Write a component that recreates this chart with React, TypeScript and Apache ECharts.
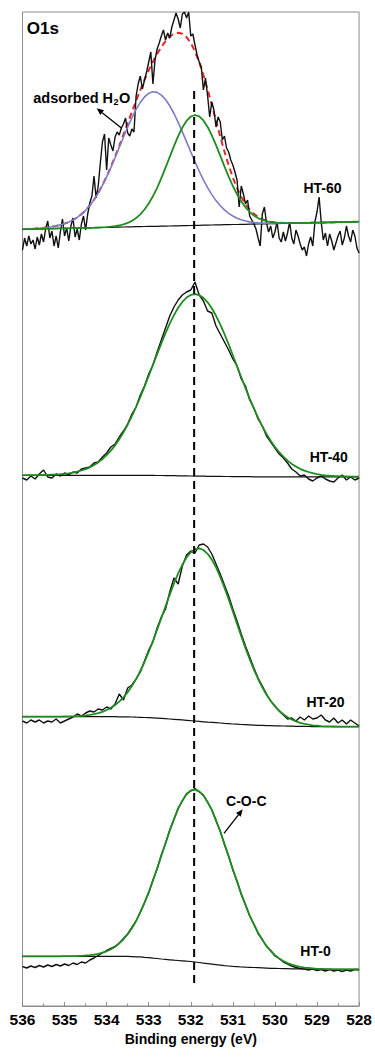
import React, { useEffect, useRef } from "react";
import * as echarts from "echarts";

// Binding-energy sampling grid (eV): spectra/fits are sampled from 536 eV downward
const E_START = 536;
const STEP = 0.1; // fits and HT-40/20/0 spectra
const FINE_STEP = 0.05; // HT-60 spectrum

const X_MIN = 528;
const X_MAX = 536;
const Y_MAX = 994; // stacked intensity (a.u.)
const PEAK_LINE_E = 531.92;
const PEAK_LINE_RANGE = [23, 918];

// ---------------- HT-60 (stacked intensity, a.u.) ----------------
const HT60_RAW = [
  756, 768, 760, 770, 762, 766, 757, 769, 761, 772,
  764, 777, 785, 768, 775, 760, 770, 758, 774, 787,
  770, 778, 765, 780, 788, 769, 777, 766, 782, 790,
  776, 792, 803, 810, 830, 808, 820, 843, 864, 872,
  836, 868, 861, 855, 869, 874, 871, 878, 882, 888,
  873, 870, 877, 874, 910, 922, 930, 917, 926, 934,
  944, 954, 922, 946, 957, 963, 970, 976, 966, 973,
  968, 979, 986, 993, 987, 978, 992, 994, 988, 994,
  970, 972, 961, 951, 944, 939, 916, 928, 910, 889,
  904, 896, 879, 889, 884, 866, 870, 858, 854, 846,
  841, 834, 826, 799, 820, 812, 802, 806, 790, 786,
  782, 777, 768, 760, 792, 799, 783, 774, 780, 768,
  774, 784, 768, 764, 774, 765, 773, 784, 768, 762,
  776, 770, 762, 756, 759, 750, 762, 769, 760, 784,
  794, 809, 784, 766, 773, 760, 772, 765, 756, 763,
  770, 775, 761, 768, 780, 770, 764, 776, 770, 758,
  753,
];
const HT60_BG = [
  776.7, 776.8, 776.9, 777.0, 777.1, 777.2, 777.3, 777.4, 777.5, 777.6,
  777.7, 777.7, 777.8, 777.9, 778.0, 778.1, 778.2, 778.3, 778.4, 778.5,
  778.6, 778.7, 778.8, 778.9, 779.0, 779.1, 779.2, 779.3, 779.4, 779.5,
  779.6, 779.6, 779.7, 779.8, 779.9, 780.0, 780.1, 780.2, 780.3, 780.4,
  780.5, 780.6, 780.7, 780.8, 780.9, 781.0, 781.1, 781.2, 781.3, 781.4,
  781.5, 781.5, 781.6, 781.7, 781.8, 781.9, 782.0, 782.1, 782.2, 782.3,
  782.4, 782.5, 782.6, 782.7, 782.8, 782.9, 783.0, 783.1, 783.2, 783.3,
  783.4, 783.4, 783.5, 783.6, 783.7, 783.8, 783.9, 784.0, 784.1, 784.2,
  784.3,
];
const HT60_H2O = [
  0.2, 0.3, 0.4, 0.5, 0.7, 1.0, 1.4, 1.9, 2.6, 3.5,
  4.7, 6.2, 8.2, 10.7, 13.8, 17.6, 22.3, 28.0, 34.5, 42.1,
  50.5, 59.7, 69.5, 79.7, 89.8, 99.7, 109.0, 117.3, 124.2, 129.6,
  133.1, 134.6, 133.9, 131.1, 126.6, 120.2, 112.4, 103.4, 93.8, 83.7,
  73.5, 63.6, 54.1, 45.4, 37.4, 30.4, 24.3, 19.1, 14.8, 11.3,
  8.5, 6.3, 4.6, 3.3, 2.3, 1.6, 1.1, 0.8, 0.5, 0.3,
  0.2, 0.1, 0.1, 0, 0, 0, 0, 0, 0, 0,
  0, 0, 0, 0, 0, 0, 0, 0, 0, 0, 0,
];
const HT60_COC = [
  0, 0, 0, 0, 0, 0, 0, 0, 0, 0,
  0, 0, 0, 0, 0, 0, 0, 0, 0.1, 0.2,
  0.36, 0.6, 1.0, 1.6, 2.6, 3.95, 5.9, 8.6, 12.3, 17.0,
  22.9, 30.1, 38.5, 48.0, 58.4, 69.1, 79.8, 89.7, 98.2, 104.8,
  109.0, 110.4, 109.0, 104.8, 98.2, 89.7, 79.8, 69.1, 58.4, 48.0,
  38.5, 30.1, 22.9, 17.0, 12.3, 8.6, 5.9, 3.95, 2.6, 1.6,
  1.0, 0.6, 0.36, 0.2, 0.1, 0, 0, 0, 0, 0,
  0, 0, 0, 0, 0, 0, 0, 0, 0, 0, 0,
];

// ---------------- HT-40 ----------------
const HT40_RAW = [
  528, 526, 530, 527, 532, 536, 529, 528, 532, 530,
  533, 531, 534, 533, 537, 538, 539, 543, 544, 549,
  553, 559, 562, 569, 575, 582, 592, 599, 611, 620,
  632, 641, 654, 666, 678, 690, 699, 706, 711, 714,
  716, 724, 711, 705, 695, 693, 680, 672, 664, 656,
  647, 640, 627, 620, 606, 598, 587, 580, 570, 564,
  558, 552, 548, 543, 537, 534, 530, 531, 527, 525,
  528, 530, 527, 525, 524, 528, 531, 526, 529, 526, 528,
];
const HT40_BG = [
  530.7, 530.7, 530.7, 530.7, 530.7, 530.7, 530.7, 530.7, 530.7, 530.7,
  530.7, 530.7, 530.7, 530.7, 530.7, 530.7, 530.7, 530.7, 530.7, 530.7,
  530.7, 530.7, 530.7, 530.7, 530.7, 530.7, 530.7, 530.7, 530.7, 530.7,
  530.6, 530.6, 530.5, 530.5, 530.4, 530.3, 530.3, 530.2, 530.1, 530.1,
  530.0, 529.9, 529.9, 529.8, 529.7, 529.7, 529.6, 529.6, 529.5, 529.5,
  529.4, 529.4, 529.4, 529.3, 529.3, 529.2, 529.2, 529.2, 529.2, 529.2,
  529.2, 529.2, 529.2, 529.2, 529.2, 529.2, 529.2, 529.2, 529.2, 529.2,
  529.2, 529.2, 529.2, 529.2, 529.2, 529.2, 529.2, 529.2, 529.2, 529.2, 529.2,
];
const HT40_COC = [
  0.0, 0.1, 0.1, 0.1, 0.2, 0.3, 0.4, 0.6, 0.8, 1.1,
  1.5, 2.0, 2.7, 3.6, 4.8, 6.2, 8.0, 10.2, 12.9, 16.2,
  20.1, 24.6, 29.9, 36.0, 42.9, 50.6, 59.1, 68.3, 78.2, 88.6,
  99.4, 110.4, 121.4, 132.2, 142.5, 152.0, 160.6, 168.0, 174.0, 178.4,
  181.1, 182.0, 181.1, 178.4, 174.0, 168.0, 160.6, 152.0, 142.5, 132.2,
  121.4, 110.4, 99.4, 88.6, 78.2, 68.3, 59.1, 50.6, 42.9, 36.0,
  29.9, 24.6, 20.1, 16.2, 12.9, 10.2, 8.0, 6.2, 4.8, 3.6,
  2.7, 2.0, 1.5, 1.1, 0.8, 0.6, 0.4, 0.3, 0.2, 0.1, 0.1,
];

// ---------------- HT-20 ----------------
const HT20_RAW = [
  285, 283, 286, 284, 286, 283, 285, 284, 287, 283,
  285, 287, 289, 292, 290, 293, 295, 294, 297, 296,
  299, 297, 302, 312, 306, 318, 321, 327, 334, 345,
  356, 364, 378, 389, 397, 414, 428, 422, 440, 451,
  455, 453, 461, 462, 459, 452, 442, 432, 421, 410,
  397, 385, 372, 360, 349, 338, 328, 320, 312, 305,
  300, 295, 291, 287, 288, 285, 289, 286, 290, 287,
  288, 291, 286, 284, 288, 283, 286, 282, 286, 283, 280,
];
const HT20_BG = [
  289.3, 289.3, 289.3, 289.3, 289.3, 289.3, 289.3, 289.3, 289.3, 289.3,
  289.3, 289.3, 289.3, 289.3, 289.3, 289.3, 289.3, 289.3, 289.3, 289.3,
  289.3, 289.3, 289.3, 289.2, 289.2, 289.1, 289.0, 288.8, 288.7, 288.5,
  288.4, 288.2, 287.9, 287.6, 287.3, 287.0, 286.7, 286.4, 286.1, 285.7,
  285.3, 285.0, 284.6, 284.2, 283.8, 283.6, 283.3, 283.0, 282.6, 282.3,
  282.0, 281.8, 281.5, 281.3, 281.1, 280.9, 280.7, 280.6, 280.4, 280.3,
  280.2, 280.1, 280.0, 279.9, 279.8, 279.7, 279.6, 279.6, 279.5, 279.4,
  279.4, 279.3, 279.3, 279.3, 279.3, 279.3, 279.3, 279.3, 279.3, 279.3, 279.3,
];
const HT20_COC = [
  0, 0, 0, 0, 0, 0, 0, 0, 0.1, 0.1,
  0.2, 0.3, 0.4, 0.6, 0.9, 1.3, 1.8, 2.6, 3.6, 4.9,
  6.7, 8.9, 11.7, 15.2, 19.5, 24.7, 30.9, 38.1, 46.3, 55.5,
  65.7, 76.6, 88.3, 100.3, 112.5, 124.4, 135.8, 146.2, 155.3, 162.8,
  168.4, 171.8, 173.0, 171.8, 168.4, 162.8, 155.3, 146.2, 135.8, 124.4,
  112.5, 100.3, 88.3, 76.6, 65.7, 55.5, 46.3, 38.1, 30.9, 24.7,
  19.5, 15.2, 11.7, 8.9, 6.7, 4.9, 3.6, 2.6, 1.8, 1.3,
  0.9, 0.6, 0.4, 0.3, 0.2, 0.1, 0.1, 0, 0, 0, 0,
];

// ---------------- HT-0 ----------------
const HT0_RAW = [
  39.5, 38.0, 40.0, 38.5, 40.5, 39.0, 41.0, 39.5, 41.5, 40.0,
  42.0, 40.5, 43.0, 41.5, 44.0, 43.0, 46.0, 48.0, 50.5, 53.0,
  55.5, 57.5, 59.5, 63.0, 67.5, 72.0, 78.5, 85.0, 94.0, 103.5,
  113.0, 126.0, 137.0, 151.0, 162.5, 176.0, 186.5, 198.0, 205.0, 212.5,
  215.0, 217.5, 214.0, 211.0, 203.5, 196.5, 185.0, 175.0, 161.5, 150.0,
  136.0, 125.0, 111.5, 101.5, 90.0, 82.0, 72.5, 66.5, 59.5, 55.5,
  50.0, 47.5, 44.0, 42.0, 40.0, 38.5, 37.5, 37.0, 36.0, 37.0,
  35.5, 36.5, 35.0, 36.5, 35.0, 36.0, 34.5, 36.0, 35.0, 36.5, 36.0,
];
const HT0_BG = [
  49.7, 49.7, 49.7, 49.7, 49.7, 49.7, 49.7, 49.7, 49.7, 49.7,
  49.7, 49.7, 49.7, 49.7, 49.7, 49.7, 49.7, 49.7, 49.7, 49.7,
  49.7, 49.7, 49.7, 49.7, 49.7, 49.6, 49.4, 49.2, 49.1, 48.7,
  48.4, 47.9, 47.5, 47.0, 46.6, 46.2, 45.8, 45.5, 45.2, 44.8,
  44.5, 44.0, 43.5, 42.9, 42.4, 41.9, 41.4, 40.9, 40.3, 40.0,
  39.6, 39.3, 39.0, 38.8, 38.7, 38.5, 38.3, 38.1, 37.9, 37.7,
  37.6, 37.5, 37.4, 37.3, 37.2, 37.2, 37.1, 37.0, 37.0, 36.9,
  36.8, 36.8, 36.7, 36.7, 36.7, 36.7, 36.7, 36.7, 36.7, 36.7, 36.7,
];
const HT0_COC = [
  0, 0, 0, 0, 0, 0, 0, 0, 0, 0,
  0.1, 0.1, 0.2, 0.3, 0.5, 0.8, 1.2, 1.7, 2.5, 3.6,
  5.0, 7.0, 9.6, 12.9, 17.0, 22.2, 28.4, 35.9, 44.5, 54.4,
  65.4, 77.4, 90.1, 103.2, 116.4, 129.2, 141.1, 151.7, 160.4, 167.0,
  171.0, 172.4, 171.2, 167.6, 161.7, 153.9, 144.4, 133.6, 121.8, 109.5,
  97.1, 84.9, 73.1, 62.1, 52.0, 43.0, 35.0, 28.1, 22.2, 17.3,
  13.3, 10.1, 7.6, 5.6, 4.1, 2.9, 2.1, 1.4, 1.0, 0.7,
  0.4, 0.3, 0.2, 0.1, 0, 0, 0, 0, 0, 0, 0,
];

const COLORS = {
  raw: "#111111",
  fit: "#1f8c1f",
  h2o: "#7b7bc9",
  envelope: "#e3262a",
  frame: "#8c8c8c",
};
const FONT = '"Liberation Sans", Arial, sans-serif';

function toPairs(vals: number[], step: number) {
  return vals.map((v, i) => [Number((E_START - i * step).toFixed(2)), v]);
}
function addArrays(...arrs: number[][]) {
  return arrs[0].map((_, i) => arrs.reduce((s, a) => s + a[i], 0));
}

function lineSeries(name: string, data: number[][], color: string, width: number, extra: any = {}) {
  return {
    name,
    type: "line",
    data,
    symbol: "none",
    showSymbol: false,
    silent: true,
    animation: false,
    lineStyle: { color, width, ...(extra.lineStyle || {}) },
    z: extra.z ?? 2,
  };
}

function arrow(x1: number, y1: number, tipX: number, tipY: number) {
  const dx = tipX - x1;
  const dy = tipY - y1;
  const len = Math.sqrt(dx * dx + dy * dy);
  const ux = dx / len;
  const uy = dy / len;
  const hl = 7;
  const hw = 3;
  const bx = tipX - hl * ux;
  const by = tipY - hl * uy;
  return [
    { type: "line", shape: { x1, y1, x2: bx, y2: by }, style: { stroke: "#000", lineWidth: 1.3 } },
    {
      type: "polygon",
      shape: {
        points: [
          [tipX, tipY],
          [bx - hw * uy, by + hw * ux],
          [bx + hw * uy, by - hw * ux],
        ],
      },
      style: { fill: "#000" },
    },
  ];
}

function label(text: string, x: number, y: number, size: number, align = "center") {
  return {
    type: "text",
    x,
    y,
    style: {
      text,
      font: `bold ${size}px ${FONT}`,
      fill: "#000",
      align,
      verticalAlign: "middle",
      textAlign: align,
      textVerticalAlign: "middle",
    },
    z: 10,
  };
}

function measure(text: string, size: number) {
  const c = document.createElement("canvas").getContext("2d");
  if (!c) return text.length * size * 0.55;
  c.font = `bold ${size}px ${FONT}`;
  return c.measureText(text).width;
}

export default function App() {
  const ref = useRef<HTMLDivElement>(null);

  useEffect(() => {
    document.body.style.margin = "0";
    if (!ref.current) return;
    const chart = echarts.init(ref.current, undefined, { renderer: "svg" });

    const ht60Env = addArrays(HT60_BG, HT60_H2O, HT60_COC);
    const series: any[] = [
      lineSeries("HT-60 envelope", toPairs(ht60Env, STEP), COLORS.envelope, 2, { lineStyle: { type: [6, 4] }, z: 2 }),
      lineSeries("HT-60", toPairs(HT60_RAW, FINE_STEP), COLORS.raw, 1.4, { z: 3 }),
      lineSeries("HT-60 background", toPairs(HT60_BG, STEP), COLORS.raw, 1.2, { z: 4 }),
      lineSeries("adsorbed H2O", toPairs(addArrays(HT60_BG, HT60_H2O), STEP), COLORS.h2o, 1.6, { z: 5 }),
      lineSeries("HT-60 C-O-C", toPairs(addArrays(HT60_BG, HT60_COC), STEP), COLORS.fit, 1.8, { z: 6 }),

      lineSeries("HT-40", toPairs(HT40_RAW, STEP), COLORS.raw, 1.4, { z: 3 }),
      lineSeries("HT-40 background", toPairs(HT40_BG, STEP), COLORS.raw, 1.2, { z: 4 }),
      lineSeries("HT-40 C-O-C", toPairs(addArrays(HT40_BG, HT40_COC), STEP), COLORS.fit, 1.8, { z: 6 }),

      lineSeries("HT-20", toPairs(HT20_RAW, STEP), COLORS.raw, 1.4, { z: 3 }),
      lineSeries("HT-20 background", toPairs(HT20_BG, STEP), COLORS.raw, 1.2, { z: 4 }),
      lineSeries("HT-20 C-O-C", toPairs(addArrays(HT20_BG, HT20_COC), STEP), COLORS.fit, 1.8, { z: 6 }),

      lineSeries("HT-0", toPairs(HT0_RAW, STEP), COLORS.raw, 1.4, { z: 3 }),
      lineSeries("HT-0 background", toPairs(HT0_BG, STEP), COLORS.raw, 1.2, { z: 4 }),
      lineSeries("HT-0 C-O-C", toPairs(addArrays(HT0_BG, HT0_COC), STEP), COLORS.fit, 1.8, { z: 6 }),

      lineSeries(
        "peak position",
        [
          [PEAK_LINE_E, PEAK_LINE_RANGE[0]],
          [PEAK_LINE_E, PEAK_LINE_RANGE[1]],
        ],
        "#000",
        2,
        { lineStyle: { type: [8, 5] }, z: 8 }
      ),
    ];

    // "adsorbed H2O" with subscript, laid out from measured widths
    const h2oSize = 14.5;
    const subSize = 9;
    const h2oX = 33.3;
    const h2oY = 98.3;
    const wMain = measure("adsorbed H", h2oSize);
    const wSub = measure("2", subSize);

    const graphics: any[] = [
      label("O1s", 26.7, 28, 17, "left"),
      label("adsorbed H", h2oX, h2oY, h2oSize, "left"),
      label("2", h2oX + wMain + 0.5, h2oY + 4, subSize, "left"),
      label("O", h2oX + wMain + wSub + 1, h2oY, h2oSize, "left"),
      label("HT-60", 322.5, 188.3, 14),
      label("HT-40", 328.8, 457.3, 14),
      label("HT-20", 325.5, 701.7, 14),
      label("HT-0", 315.5, 950.7, 14),
      label("C-O-C", 246.3, 801, 14),
      ...arrow(121.7, 128.3, 96.7, 108.3),
      ...arrow(224, 833.3, 242.7, 809.3),
    ];

    chart.setOption({
      animation: false,
      backgroundColor: "#fff",
      grid: {
        left: 22.5,
        right: 15.5,
        top: 12,
        bottom: 51,
        show: true,
        borderColor: COLORS.frame,
        borderWidth: 1,
        backgroundColor: "transparent",
      },
      xAxis: {
        type: "value",
        min: X_MIN,
        max: X_MAX,
        interval: 1,
        inverse: true,
        name: "Binding energy (eV)",
        nameLocation: "middle",
        nameGap: 25,
        nameTextStyle: { fontFamily: FONT, fontWeight: "bold", fontSize: 14, color: "#000" },
        axisLine: { show: true, lineStyle: { color: COLORS.frame, width: 1 } },
        axisTick: { show: true, inside: true, length: 4, lineStyle: { color: COLORS.frame } },
        minorTick: { show: true, splitNumber: 2, length: 2.5, lineStyle: { color: COLORS.frame } },
        axisLabel: { fontFamily: FONT, fontWeight: "bold", fontSize: 15.5, color: "#000", margin: 5 },
        splitLine: { show: false },
      },
      yAxis: {
        type: "value",
        min: 0,
        max: Y_MAX,
        show: false,
        splitLine: { show: false },
      },
      series,
      graphic: graphics,
    });

    return () => chart.dispose();
  }, []);

  return (
    <div
      ref={ref}
      style={{ width: 375, height: 1057, position: "absolute", left: 0, top: 0, background: "#fff" }}
    />
  );
}
